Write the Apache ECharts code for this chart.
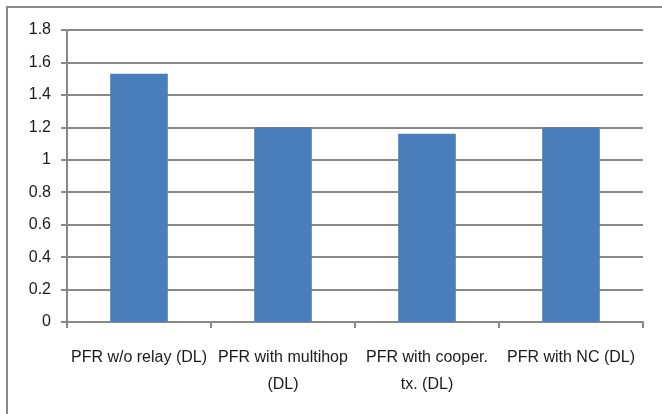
<!DOCTYPE html>
<html>
<head>
<meta charset="utf-8">
<script src="https://cdn.jsdelivr.net/npm/echarts@6/dist/echarts.min.js"></script>
<style>
  html, body { margin: 0; padding: 0; background: #fff; }
  #chart { width: 662px; height: 414px; }
</style>
</head>
<body>
<div id="chart"></div>
<script>
// Category labels (line breaks as shown under the axis)
const categories = [
  'PFR w/o relay (DL)',
  'PFR with multihop\n(DL)',
  'PFR with cooper.\ntx. (DL)',
  'PFR with NC (DL)'
];
// Bar heights
const values = [1.53, 1.2, 1.16, 1.2];
// Value axis range
const yMin = 0;
const yMax = 1.8;
const yStep = 0.2;

const gray = '#888888';
const textColor = '#1a1a1a';
const fontFamily = 'Liberation Sans, Arial, sans-serif';

const chart = echarts.init(document.getElementById('chart'), null, { renderer: 'canvas' });
chart.setOption({
  animation: false,
  backgroundColor: '#ffffff',
  graphic: [{
    type: 'rect',
    shape: { x: 7, y: 7, width: 720, height: 480 },
    style: { fill: 'none', stroke: gray, lineWidth: 2 },
    z: 0
  }],
  grid: { left: 67, right: 19, top: 30, bottom: 92 },
  xAxis: {
    type: 'category',
    data: categories,
    axisLine: { lineStyle: { color: gray, width: 2 } },
    axisTick: { show: true, length: 6, alignWithLabel: false, lineStyle: { color: gray, width: 2 } },
    axisLabel: {
      color: textColor, fontFamily: fontFamily, fontSize: 16,
      margin: 22, lineHeight: 27, interval: 0
    }
  },
  yAxis: {
    type: 'value',
    min: yMin, max: yMax, interval: yStep,
    axisLine: { show: true, lineStyle: { color: gray, width: 2 } },
    axisTick: { show: true, length: 6, lineStyle: { color: gray, width: 2 } },
    splitLine: { show: true, lineStyle: { color: gray, width: 2 } },
    axisLabel: {
      color: textColor, fontFamily: fontFamily, fontSize: 16, margin: 16,
      formatter: v => String(Math.round(v * 10) / 10)
    }
  },
  series: [{
    type: 'bar',
    data: values,
    barWidth: '40%',
    itemStyle: { color: '#4a7ebb' },
    z: 3
  }]
});
</script>
</body>
</html>
